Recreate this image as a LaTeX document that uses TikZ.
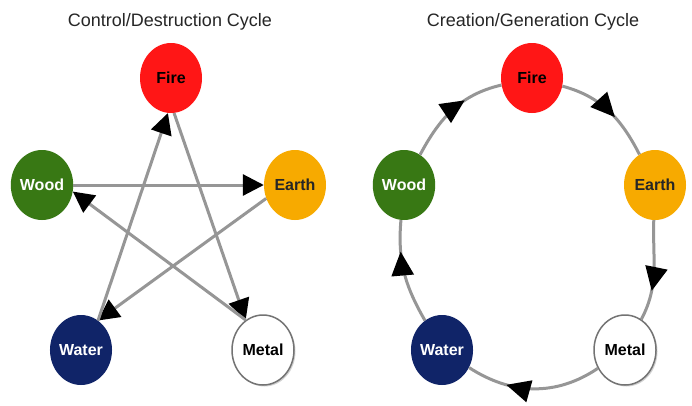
\documentclass[tikz,border=0pt]{standalone}
\usepackage{fontspec}
\setmainfont{Liberation Sans}
\usetikzlibrary{positioning,shapes.geometric,arrows.meta,decorations.markings,shadows}
\definecolor{firered}{RGB}{255,22,22}
\definecolor{woodgreen}{RGB}{56,120,20}
\definecolor{earthgold}{RGB}{247,170,0}
\definecolor{waterblue}{RGB}{16,36,104}
\definecolor{linegray}{RGB}{150,150,150}
\tikzset{
    wuxing/.style={
        x=1pt, y=1pt,
        % Titolo di ogni ciclo
        cycletitle/.style={font=\fontsize{18}{20}\selectfont, text=black!85},
        % Stile comune degli elementi (ellisse)
        element/.style={ellipse, minimum width=62pt, minimum height=70pt,
                        inner sep=0pt, font=\bfseries\fontsize{16}{16}\selectfont},
        firenode/.style={element, fill=firered, text=black},
        woodnode/.style={element, fill=woodgreen, text=white},
        earthnode/.style={element, fill=earthgold, text=black!85},
        waternode/.style={element, fill=waterblue, text=white},
        metalnode/.style={element, fill=white, text=black, draw=black!55,
                          line width=1.5pt,
                          drop shadow={opacity=0.35, shadow xshift=1.5pt,
                                       shadow yshift=-1.5pt}},
        % Frecce del ciclo di controllo (dritte)
        control/.style={draw=linegray, line width=3pt,
                        -{Triangle[length=21pt, width=21pt, color=black]}},
        % Frecce del ciclo di generazione (archi con freccia lungo l'arco)
        generation/.style={draw=linegray, line width=3pt,
                        postaction={decorate},
                        decoration={markings, mark=at position ##1 with
                          {\arrow{Triangle[length=24pt, width=22pt, color=black]}}}},
        generation/.default=0.5
    }
}
\begin{document}
\begin{tikzpicture}[wuxing]
    \fill[white] (0,0) rectangle (692,-405);
    \useasboundingbox (0,0) rectangle (692,-405);

    % Ciclo di controllo / distruzione
    \node[cycletitle] (ltitle) at (170,-22) {Control/Destruction Cycle};
    \node[firenode]  (lfire)  at (171,-78)  {Fire};
    \node[woodnode]  (lwood)  at (42,-185)  {Wood};
    \node[earthnode] (learth) at (295,-185) {Earth};
    \node[waternode] (lwater) at (81,-350)  {Water};
    \node[metalnode] (lmetal) at (263,-350) {Metal};

    \draw[control] (lwood.east) -- (learth.west);
    \draw[control] (learth.205) -- (lwater.60);
    \draw[control] (lwater.60) -- (lfire.-95);
    \draw[control] (lfire.-85) -- (lmetal.120);
    \draw[control] (lmetal.120) -- (lwood.-12);

    % Ciclo di creazione / generazione
    \node[cycletitle] (rtitle) at (533,-22) {Creation/Generation Cycle};
    \node[firenode]  (rfire)  at (532,-78)  {Fire};
    \node[woodnode]  (rwood)  at (404,-185) {Wood};
    \node[earthnode] (rearth) at (655,-185) {Earth};
    \node[waternode] (rwater) at (442,-350) {Water};
    \node[metalnode] (rmetal) at (625,-350) {Metal};

    \draw[generation=0.64] (rwood)  to[out=62,  in=193] (rfire);
    \draw[generation=0.58] (rfire)  to[out=-15, in=117] (rearth);
    \draw[generation=0.7]  (rearth) to[out=-92, in=62]  (rmetal);
    \draw[generation=0.7]  (rmetal) to[out=-146,in=-33] (rwater);
    \draw[generation=0.7]  (rwater) to[out=120, in=-95] (rwood);
\end{tikzpicture}
\end{document}
